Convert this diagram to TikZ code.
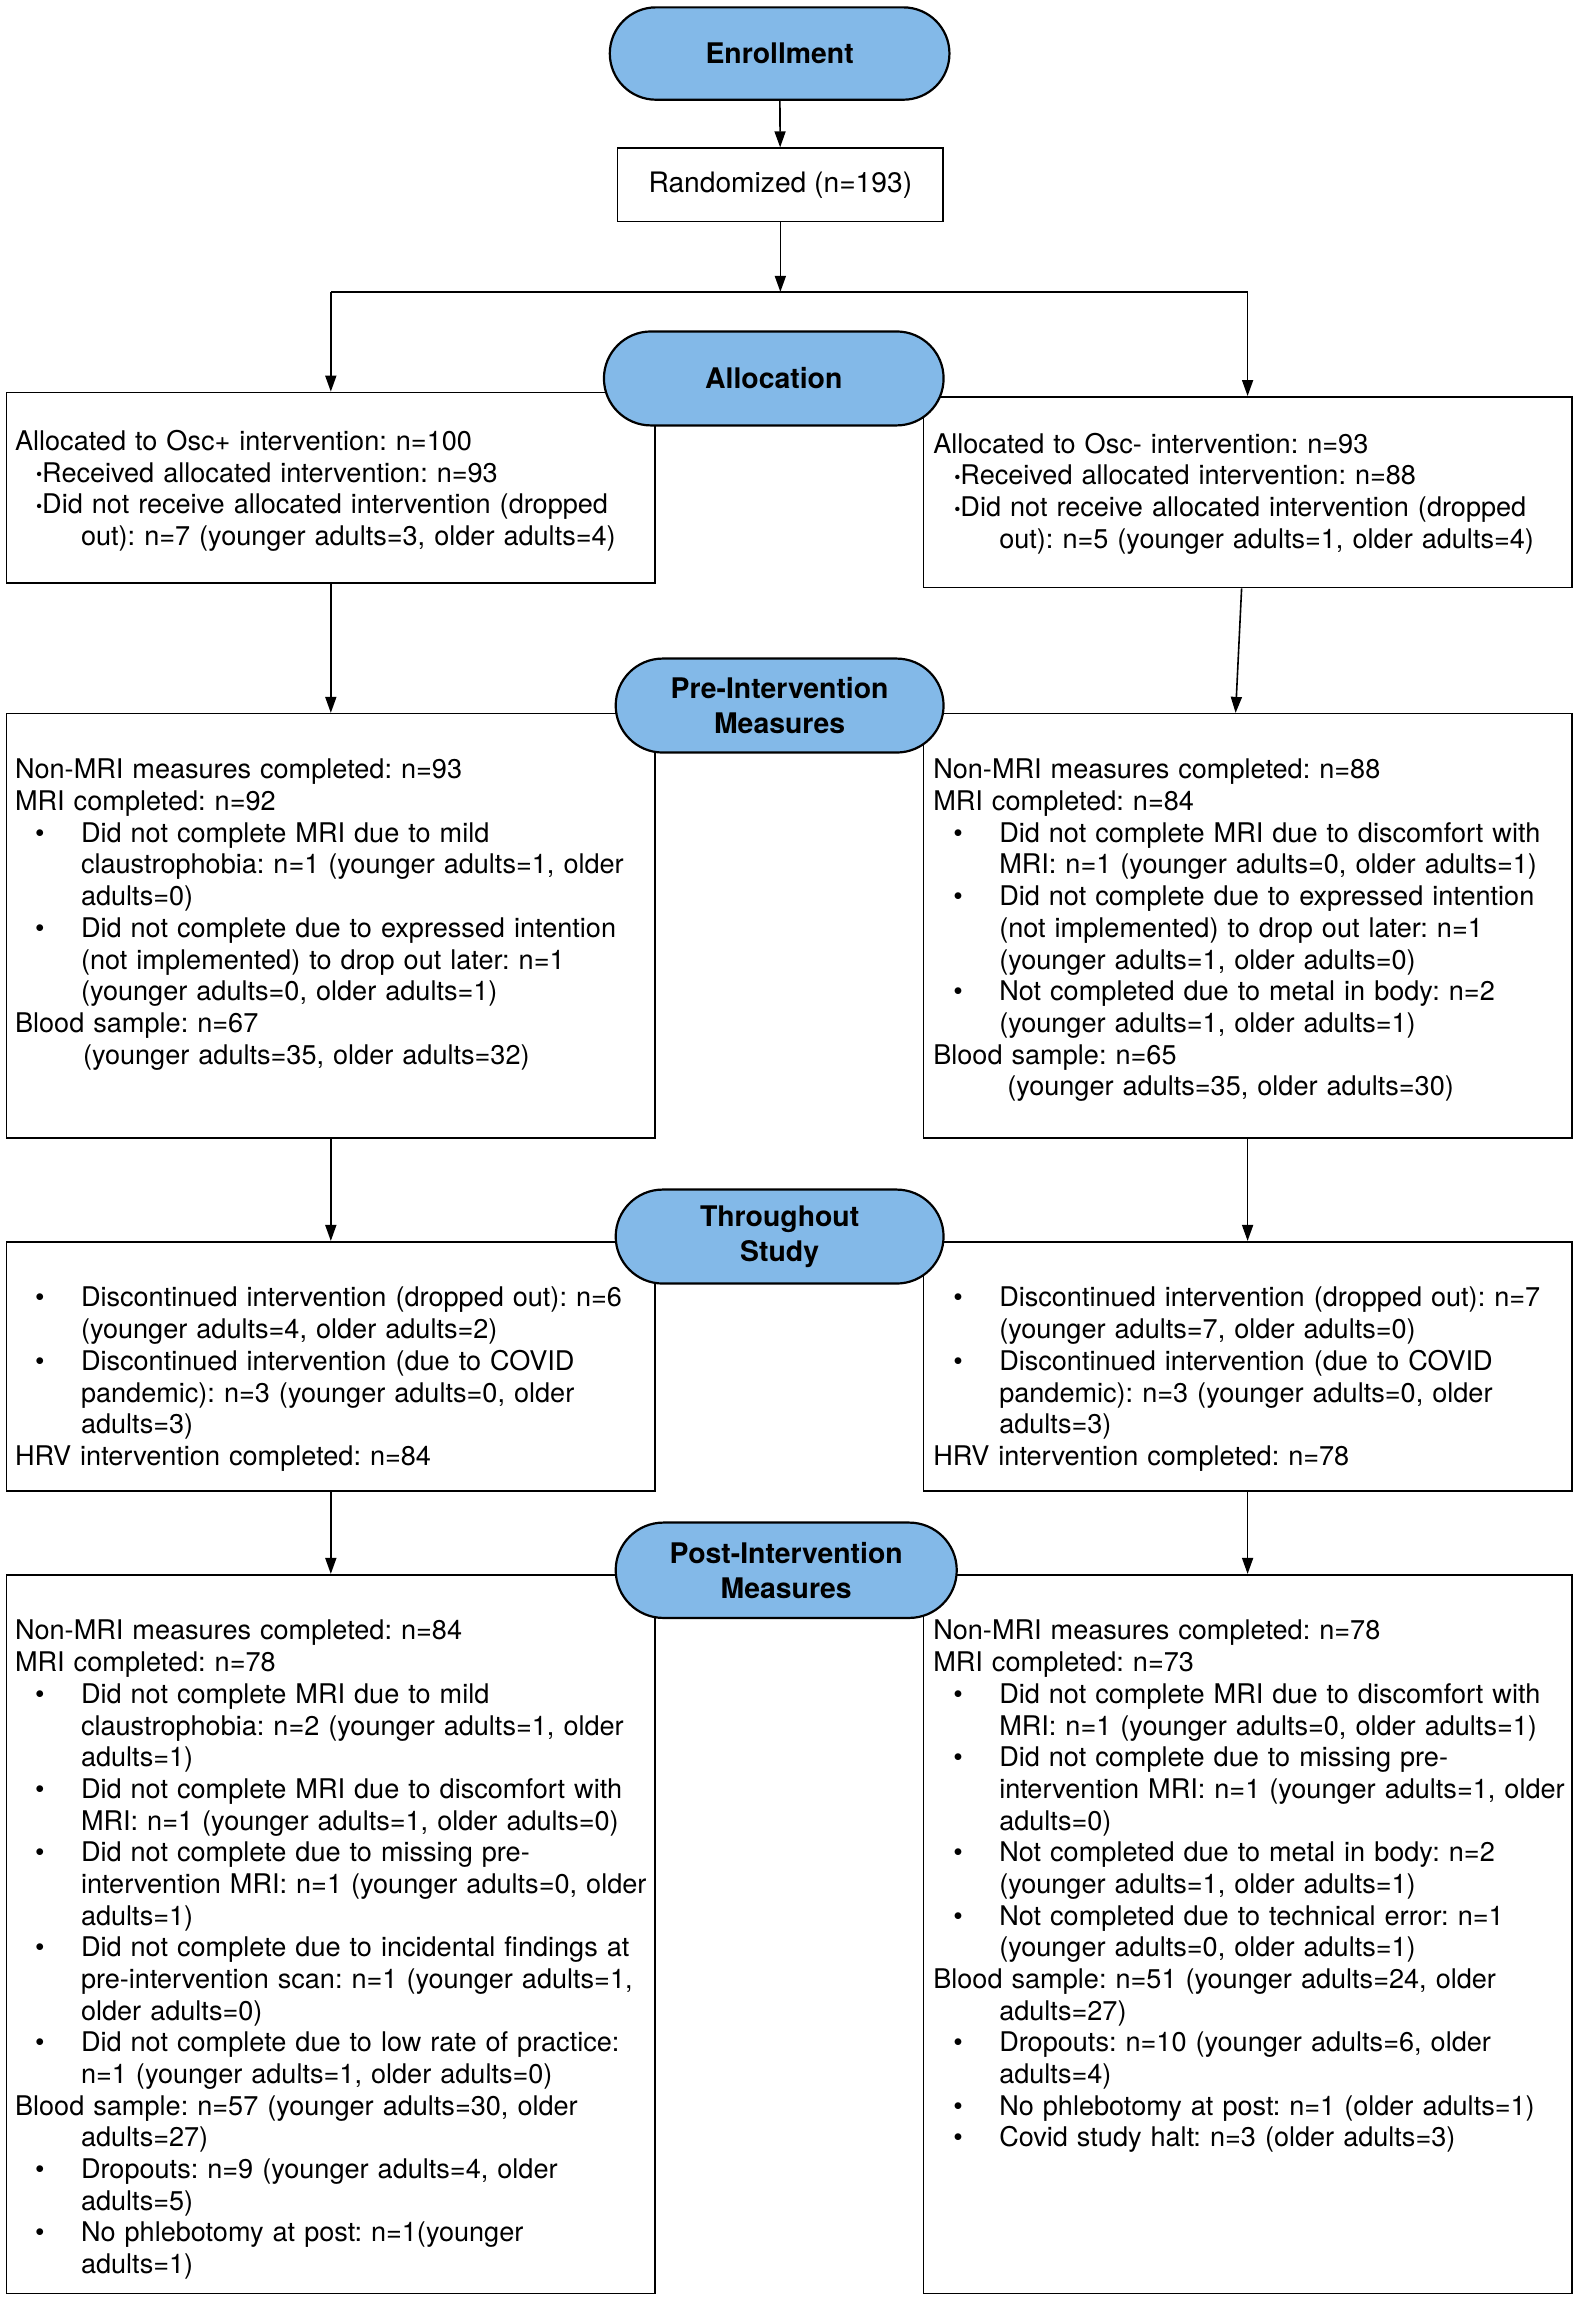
\documentclass[tikz,border=0pt]{standalone}
\usepackage{fontspec}
\setmainfont{TeX Gyre Heros}
\usetikzlibrary{arrows.meta,shapes.misc,positioning}
\definecolor{stageblue}{RGB}{131,185,232}
\frenchspacing
\newcommand{\bitem}{\makebox[33pt][l]{\hspace{10pt}•}}
\newcommand{\cont}{\hspace*{33pt}}
\newcommand{\dotitem}{\hspace*{10.5pt}\raisebox{0.7pt}{\scalebox{0.65}{•}}}

\begin{document}
\begin{tikzpicture}[>={Triangle[length=8pt,width=5.5pt]},x=0.73375pt,y=-0.73375pt,
	stage/.style={rounded rectangle,draw,line width=1.1pt,fill=stageblue,inner sep=2pt,align=center,font=\fontsize{14.2}{17.6}\selectfont\bfseries},
	box/.style={draw,line width=0.8pt,anchor=north west,inner sep=0pt,minimum width=324.3pt},
	txt/.style={anchor=base west,inner sep=0pt,text width=360pt,align=left,font=\fontsize{13.55}{15.85}\selectfont},
	link/.style={->,line width=0.8pt}]

			\useasboundingbox (0,0) rectangle (1076,1568);

			% boxes of the two arms
			\node[box,minimum height=95.4pt] (lA) at (4,267) {};
			\node[box,minimum height=95.4pt] (rA) at (629,270) {};
			\node[box,minimum height=212.1pt] (lB) at (4,486) {};
			\node[box,minimum height=212.1pt] (rB) at (629,486) {};
			\node[box,minimum height=124.7pt] (lC) at (4,846) {};
			\node[box,minimum height=124.7pt] (rC) at (629,846) {};
			\node[box,minimum height=359.5pt] (lD) at (4,1073) {};
			\node[box,minimum height=359.5pt] (rD) at (629,1073) {};

			\node[draw,line width=0.8pt,minimum width=162.9pt,minimum height=36.7pt,font=\fontsize{14.1}{16}\selectfont] (rnd) at (532,126) {Randomized (n=193)};

			% stages
			\node[stage,minimum width=173.9pt,minimum height=46.2pt] (enr) at (531.5,36.5) {Enrollment};
			\node[stage,minimum width=173.9pt,minimum height=47pt] (alloc) at (527.5,258) {Allocation};
			\node[stage,minimum width=168pt,minimum height=47pt] (pre) at (531.5,481) {Pre-Intervention\\Measures};
			\node[stage,minimum width=168pt,minimum height=47pt] (thru) at (531.5,843) {Throughout\\Study};
			\node[stage,minimum width=174.6pt,minimum height=47.7pt] (post) at (536,1070.5) {Post-Intervention\\Measures};

			% texts
			\node[txt] (lAt) at ([shift={(6,40)}]lA.north west) {Allocated to Osc+ intervention: n=100\\
					\dotitem Received allocated intervention: n=93\\
					\dotitem Did not receive allocated intervention (dropped\\
					\cont out): n=7 (younger adults=3, older adults=4)};
			\node[txt] (rAt) at ([shift={(7,39)}]rA.north west) {Allocated to Osc- intervention: n=93\\
					\dotitem Received allocated intervention: n=88\\
					\dotitem Did not receive allocated intervention (dropped\\
					\cont out): n=5 (younger adults=1, older adults=4)};

			\node[txt] (lBt) at ([shift={(6,45)}]lB.north west) {Non-MRI measures completed: n=93\\
					MRI completed: n=92\\
					\bitem Did not complete MRI due to mild\\
					\cont claustrophobia: n=1 (younger adults=1, older\\
					\cont adults=0)\\
					\bitem Did not complete due to expressed intention\\
					\cont (not implemented) to drop out later: n=1\\
					\cont (younger adults=0, older adults=1)\\
					Blood sample: n=67\\
					\hspace*{34pt}(younger adults=35, older adults=32)};
			\node[txt] (rBt) at ([shift={(7,45)}]rB.north west) {Non-MRI measures completed: n=88\\
					MRI completed: n=84\\
					\bitem Did not complete MRI due to discomfort with\\
					\cont MRI: n=1 (younger adults=0, older adults=1)\\
					\bitem Did not complete due to expressed intention\\
					\cont (not implemented) to drop out later: n=1\\
					\cont (younger adults=1, older adults=0)\\
					\bitem Not completed due to metal in body: n=2\\
					\cont (younger adults=1, older adults=1)\\
					Blood sample: n=65\\
					\hspace*{37pt}(younger adults=35, older adults=30)};

			\node[txt] (lCt) at ([shift={(6,45)}]lC.north west) {\bitem Discontinued intervention (dropped out): n=6\\
					\cont (younger adults=4, older adults=2)\\
					\bitem Discontinued intervention (due to COVID\\
					\cont pandemic): n=3 (younger adults=0, older\\
					\cont adults=3)\\
					HRV intervention completed: n=84};
			\node[txt] (rCt) at ([shift={(7,45)}]rC.north west) {\bitem Discontinued intervention (dropped out): n=7\\
					\cont (younger adults=7, older adults=0)\\
					\bitem Discontinued intervention (due to COVID\\
					\cont pandemic): n=3 (younger adults=0, older\\
					\cont adults=3)\\
					HRV intervention completed: n=78};

			\node[txt] (lDt) at ([shift={(6,45)}]lD.north west) {Non-MRI measures completed: n=84\\
					MRI completed: n=78\\
					\bitem Did not complete MRI due to mild\\
					\cont claustrophobia: n=2 (younger adults=1, older\\
					\cont adults=1)\\
					\bitem Did not complete MRI due to discomfort with\\
					\cont MRI: n=1 (younger adults=1, older adults=0)\\
					\bitem Did not complete due to missing pre-\\
					\cont intervention MRI: n=1 (younger adults=0, older\\
					\cont adults=1)\\
					\bitem Did not complete due to incidental findings at\\
					\cont pre-intervention scan: n=1 (younger adults=1,\\
					\cont older adults=0)\\
					\bitem Did not complete due to low rate of practice:\\
					\cont n=1 (younger adults=1, older adults=0)\\
					Blood sample: n=57 (younger adults=30, older\\
					\cont adults=27)\\
					\bitem Dropouts: n=9 (younger adults=4, older\\
					\cont adults=5)\\
					\bitem No phlebotomy at post: n=1(younger\\
					\cont adults=1)};
			\node[txt] (rDt) at ([shift={(7,45)}]rD.north west) {Non-MRI measures completed: n=78\\
					MRI completed: n=73\\
					\bitem Did not complete MRI due to discomfort with\\
					\cont MRI: n=1 (younger adults=0, older adults=1)\\
					\bitem Did not complete due to missing pre-\\
					\cont intervention MRI: n=1 (younger adults=1, older\\
					\cont adults=0)\\
					\bitem Not completed due to metal in body: n=2\\
					\cont (younger adults=1, older adults=1)\\
					\bitem Not completed due to technical error: n=1\\
					\cont (younger adults=0, older adults=1)\\
					Blood sample: n=51 (younger adults=24, older\\
					\cont adults=27)\\
					\bitem Dropouts: n=10 (younger adults=6, older\\
					\cont adults=4)\\
					\bitem No phlebotomy at post: n=1 (older adults=1)\\
					\bitem Covid study halt: n=3 (older adults=3)};

			% connectors
			\coordinate (split) at (532,199);
			\draw[link] (enr) -- (rnd);
			\draw[link] (rnd) -- (split);
			\draw[line width=0.8pt] (lA.north |- split) -- (rA.north |- split);
			\draw[link] (lA.north |- split) -- (lA.north);
			\draw[link] (rA.north |- split) -- (rA.north);
			\draw[link] (lA.south) -- (lB.north);
			\draw[link] ([xshift=-3pt]rA.south) -- ([xshift=-6pt]rB.north);
			\foreach \s/\t in {lB/lC,rB/rC,lC/lD,rC/rD} {
					\draw[link] (\s.south) -- (\t.north);
				}
		\end{tikzpicture}
\end{document}
